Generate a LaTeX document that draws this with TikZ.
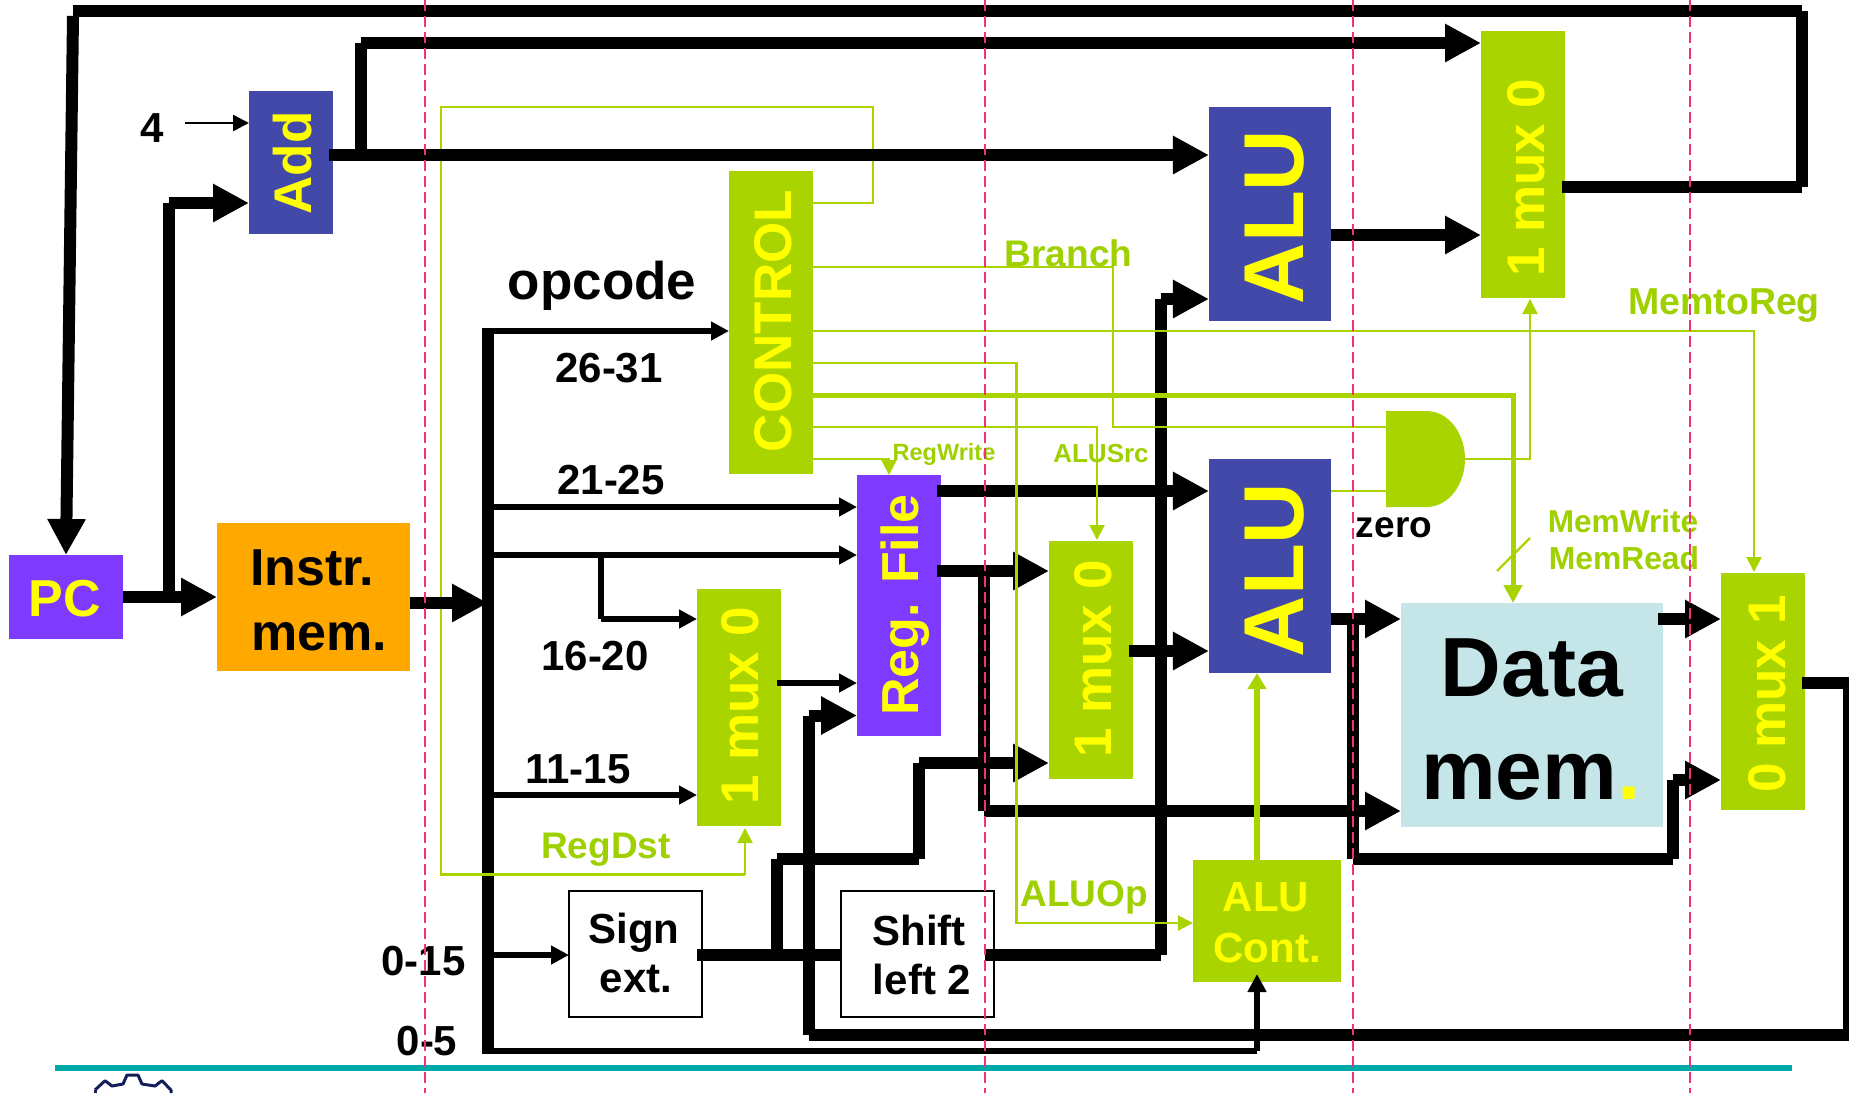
\documentclass[tikz,border=0pt]{standalone}
\usepackage{fontspec}
\setmainfont{Liberation Sans}
\usetikzlibrary{arrows.meta,calc}
\definecolor{cgreen}{HTML}{AAD400}
\definecolor{lgreen}{HTML}{9FD000}
\definecolor{cblue}{HTML}{4349A8}
\definecolor{cpurple}{HTML}{7F3AFF}
\definecolor{corange}{HTML}{FFA800}
\definecolor{cdata}{HTML}{C4E6E8}
\definecolor{cyell}{HTML}{FFFF00}
\definecolor{cpink}{HTML}{F5307A}
\definecolor{cteal}{HTML}{00A8A8}
\definecolor{cnavy}{HTML}{141E5A}
\tikzset{
  blockbox/.style={inner sep=0pt,outer sep=0pt,draw=none},
  whitebox/.style={blockbox,draw=black,line width=2pt,fill=white},
  lab/.style={inner sep=0pt,outer sep=0pt,font=\bfseries},
  ylab/.style={lab,text=cyell},
  glab/.style={lab,text=lgreen},
  bigwire/.style={line width=12pt,-{Triangle[length=36pt,width=36pt]}},
  bigline/.style={line width=12pt},
  midwire/.style={line width=6pt,-{Triangle[length=18pt,width=18pt]}},
  midline/.style={line width=6pt},
  gline/.style={line width=2.2pt,draw=cgreen},
  gwire/.style={gline,-{Triangle[length=15pt,width=15pt]}},
  gthick/.style={line width=5pt,draw=cgreen,-{Triangle[length=18pt,width=18pt]}},
  guide/.style={line width=2pt,draw=cpink,dash pattern=on 11pt off 5pt},
}
\newcommand{\fs}[1]{\fontsize{#1}{#1}\selectfont}
\begin{document}
\begin{tikzpicture}[x=1pt,y=-1pt]
\useasboundingbox (0,0) rectangle (1849,1093);
\fill[white] (0,0) rectangle (1849,1093);
% blocks
\node[blockbox,fill=cblue,minimum width=84pt,minimum height=143pt] (add) at (291,162.5) {};
\node[blockbox,fill=cgreen,minimum width=84pt,minimum height=303pt] (ctrl) at (771,322.5) {};
\node[blockbox,fill=cblue,minimum width=122.5pt,minimum height=214pt] (alua) at (1270.2,214) {};
\node[blockbox,fill=cgreen,minimum width=84pt,minimum height=267pt] (muxa) at (1523,164.5) {};
\node[blockbox,fill=cpurple,minimum width=114pt,minimum height=84pt] (pc) at (66,597) {};
\node[blockbox,fill=corange,minimum width=193pt,minimum height=148pt] (imem) at (313.5,597) {};
\node[blockbox,fill=cgreen,minimum width=84pt,minimum height=237pt] (muxb) at (739,707.5) {};
\node[blockbox,fill=cpurple,minimum width=84pt,minimum height=261pt] (reg) at (899,605.5) {};
\node[blockbox,fill=cgreen,minimum width=84pt,minimum height=237.6pt] (muxc) at (1091,659.8) {};
\node[blockbox,fill=cblue,minimum width=122.5pt,minimum height=214pt] (alub) at (1270.2,566) {};
\node[blockbox,fill=cdata,minimum width=262pt,minimum height=224pt] (dmem) at (1532,715) {};
\node[blockbox,fill=cgreen,minimum width=84pt,minimum height=237.5pt] (muxd) at (1763,691.7) {};
\node[blockbox,fill=cgreen,minimum width=148.5pt,minimum height=122pt] (acont) at (1267.2,920.5) {};
\coordinate (andin) at (1386,459);
\coordinate (andout) at (1465,459);
% junction coordinates
\coordinate (topl) at (73,11);
\coordinate (topr) at (1802,11);
\coordinate (pcfork) at (169,597);
\coordinate (addfork) at (361,155);
\coordinate (bustop) at (488,331);
\coordinate (busbot) at (488,1050.5);
\coordinate (rtfork) at (601,555);
\coordinate (regfork) at (984,571);
\coordinate (sfork) at (777,955);
\coordinate (alufork) at (1353,619);
% black wires
\draw[bigline] (1562,187) -- (topr |- 0,187) (topr |- 0,187) -- (topr) (topr) -- (topl);
\draw[bigwire] (73,16) -- (66,555);
\draw[bigwire] (pc.east) -- (pc.east -| imem.west);
\draw[bigwire] (pcfork) -- (pcfork |- 0,203) (pcfork |- 0,203) -- (add.west |- 0,203);
\draw[bigwire] (addfork) -- (addfork |- 0,43) (addfork |- 0,43) -- (muxa.west |- 0,43);
\draw[bigwire] (alua.east |- 0,235) -- (muxa.west |- 0,235);
\draw[bigline] (bustop |- 0,328) -- (busbot |- 0,1053.5);
\draw[midwire] (bustop) -- (ctrl.west |- bustop);
\draw[midwire] (488,507) -- (reg.west |- 0,507);
\draw[midwire] (488,555) -- (reg.west |- 0,555);
\draw[midwire] (rtfork) -- (rtfork |- 0,619) (rtfork |- 0,619) -- (muxb.west |- 0,619);
\draw[midwire] (488,795) -- (muxb.west |- 0,795);
\draw[midwire] (777,683) -- (reg.west |- 0,683);
\draw[bigwire] (1802,683) -- (1849,683) (1849,683) -- (1849,1035) (1849,1035) -- (808.5,1035) (808.5,1035) -- (808.5,715.5) (808.5,715.5) -- (reg.west |- 0,715.5);
\draw[midwire] (busbot) -- (1257,1050.5) (1257,1050.5) -- (1257,974);
% sign ext
\node[whitebox,minimum width=133pt,minimum height=125.5pt] (sign) at (635.5,954.2) {};
\node[whitebox,minimum width=152.6pt,minimum height=125.5pt] (shift) at (917.3,954.2) {};
\draw[midwire] (488,955) -- (sign.west |- 0,955);
\draw[bigline] (697,955) -- (shift.west |- 0,955);
\draw[bigwire] (sfork) -- (sfork |- 0,859) (sfork |- 0,859) -- (918.6,859) (918.6,859) -- (918.6,763) (918.6,763) -- (muxc.west |- 0,763);
\draw[bigwire] (985,955) -- (1161,955) (1161,955) -- (1161,299) (1161,299) -- (alua.west |- 0,299);
\draw[bigwire] (937,571) -- (muxc.west |- 0,571);
\draw[bigwire] (937,491) -- (alub.west |- 0,491);
\draw[bigwire] (regfork) -- (984,811) (984,811) -- (dmem.west |- 0,811);
\draw[bigwire] (1129,651) -- (alub.west |- 0,651);
\draw[bigwire] (alub.east |- 0,619) -- (dmem.west |- 0,619);
\draw[bigwire] (alufork) -- (1353,858.5) (1353,858.5) -- (1673,858.5) (1673,858.5) -- (1673,780) (1673,780) -- (muxd.west |- 0,780);
\draw[bigwire] (1658,619) -- (muxd.west |- 0,619);
% 4 input
\node[lab,font=\bfseries\fs{42}] (four) at (152,128) {4};
\draw[line width=2.5pt,-{Triangle[length=16pt,width=16pt]}] (185,123) -- (add.west |- 0,123);
% AND gate
\fill[cgreen] (1386,411) -- (1426,411) .. controls (1450,411) and (1465,435) .. (1465,459) .. controls (1465,483) and (1450,507) .. (1426,507) -- (1386,507) -- cycle;
% green control
\draw[gline] (ctrl.east |- 0,203) -- (873,203) -- (873,106.6) -- (441,106.6) -- (441,874.5) -- (745,874.5);
\draw[gwire] (745,874.5) -- (745,828);
\draw[gline] (ctrl.east |- 0,267) -- (1113,267) -- (1113,427) -- (andin |- 0,427);
\draw[gwire] (ctrl.east |- 0,331) -- (1754,331) -- (1754,572);
\draw[gwire] (ctrl.east |- 0,363) -- (1016.5,363) -- (1016.5,923) -- (acont.west |- 0,923);
\draw[gthick] (ctrl.east |- 0,395) -- (1513,395) -- (1513,603);
\draw[gline] (1530,538) -- (1497,571);
\draw[gwire] (ctrl.east |- 0,427) -- (1097,427) -- (1097,540);
\draw[gwire] (ctrl.east |- 0,459) -- (889,459) -- (889,475);
\draw[gline] (alub.east |- 0,491) -- (andin |- 0,491);
\draw[gwire] (andout) -- (1530,459) -- (1530,299);
\draw[line width=6pt,draw=cgreen,-{Triangle[length=16pt,width=18pt]}] (1257,860) -- (1257,673);
% wires that pass over the green loop
\draw[bigwire] (329,155) -- (alua.west |- 0,155);
\draw[bigwire] (imem.east |- 0,603) -- (488,603);
% labels
\node[ylab,rotate=90,font=\bfseries\fs{53}] (addL) at (293,163) {Add};
\node[ylab,rotate=90,font=\bfseries\fs{53}] (ctrlL) at (773,321) {CONTROL};
\node[ylab,rotate=90,font=\bfseries\fs{52}] (regL) at (905,605) {Reg. File};
\node[ylab,rotate=90,font=\bfseries\fs{85}] (aluaL) at (1275,217) {ALU};
\node[ylab,rotate=90,font=\bfseries\fs{85}] (alubL) at (1275,570) {ALU};
\node[ylab,rotate=90,font=\bfseries\fs{53}] (muxaL) at (1526,178) {1 mux 0};
\node[ylab,rotate=90,font=\bfseries\fs{53}] (muxbL) at (740,706) {1 mux 0};
\node[ylab,rotate=90,font=\bfseries\fs{53}] (muxcL) at (1093,659) {1 mux 0};
\node[ylab,rotate=90,font=\bfseries\fs{53}] (muxdL) at (1767,694) {0 mux 1};
\node[ylab,font=\bfseries\fs{52}] (pcL) at (65,599) {PC};
\node[lab,font=\bfseries\fs{52},anchor=base west] (imemA) at (250,585) {Instr.};
\node[lab,font=\bfseries\fs{52},anchor=base west] (imemB) at (251,650) {mem.};
\node[lab,font=\bfseries\fs{42}] (signA) at (634,932.5) {Sign};
\node[lab,font=\bfseries\fs{42}] (signB) at (636,979) {ext.};
\node[lab,font=\bfseries\fs{42}] (shiftA) at (919,930) {Shift};
\node[lab,font=\bfseries\fs{42}] (shiftB) at (922,979) {left 2};
\node[ylab,font=\bfseries\fs{42}] (acA) at (1266,897) {ALU};
\node[ylab,font=\bfseries\fs{42}] (acB) at (1267,948) {Cont.};
\node[lab,font=\bfseries\fs{84},anchor=base] (dmA) at (1532,696) {Data};
\node[lab,font=\bfseries\fs{84},anchor=base] (dmB) at (1531,799) {mem\textcolor{cyell}{.}};
\node[lab,font=\bfseries\fs{53}] (opc) at (602,285.5) {opcode};
\node[lab,font=\bfseries\fs{42}] (b2631) at (609,368.5) {26-31};
\node[lab,font=\bfseries\fs{42}] (b2125) at (611,480) {21-25};
\node[lab,font=\bfseries\fs{42}] (b1620) at (595,656.5) {16-20};
\node[lab,font=\bfseries\fs{42}] (b1115) at (578,769) {11-15};
\node[lab,font=\bfseries\fs{42}] (b015) at (423.6,961) {0-15};
\node[lab,font=\bfseries\fs{42}] (b05) at (427,1041) {0-5};
\node[lab,font=\bfseries\fs{37}] (zero) at (1394,528) {zero};
\node[glab,font=\bfseries\fs{37}] (lbranch) at (1068.5,253) {Branch};
\node[glab,font=\bfseries\fs{37.5}] (lm2r) at (1724,306) {MemtoReg};
\node[glab,font=\bfseries\fs{23.5}] (lrw) at (944,454.5) {RegWrite};
\node[glab,font=\bfseries\fs{26}] (lsrc) at (1101,453.5) {ALUSrc};
\node[glab,font=\bfseries\fs{31.6}] (lmw) at (1623,521.6) {MemWrite};
\node[glab,font=\bfseries\fs{31.8}] (lmr) at (1624,558) {MemRead};
\node[glab,font=\bfseries\fs{37}] (ldst) at (606,849.5) {RegDst};
\node[glab,font=\bfseries\fs{37}] (lop) at (1084,897) {ALUOp};
% bottom rule and logo
\draw[line width=6pt,draw=cteal] (55,1067.5) -- (1792,1067.5);
\draw[line width=3pt,draw=cnavy,line join=round] (95,1090) -- (105,1080.7) -- (112,1086) -- (123,1084) -- (127,1075) -- (138,1075) -- (142,1084) -- (155,1086) -- (162,1080.7) -- (171,1090) -- (171,1093);
\draw[line width=3pt,draw=cnavy] (95,1090) -- (95,1093);
% guides
\foreach \gx in {425,985,1353,1690}{ \draw[guide] (\gx,0) -- (\gx,1093); }
\end{tikzpicture}
\end{document}
